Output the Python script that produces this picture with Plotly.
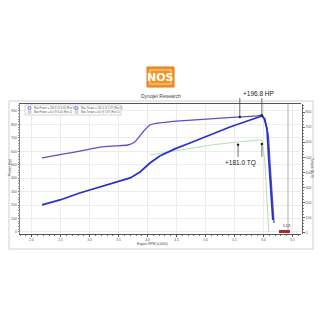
import plotly.graph_objects as go

# ---- data (Engine RPM x1000 vs power scale) ----
rpm_hp = [2.18, 2.66, 3.18, 3.44, 3.66, 3.78, 3.92, 4.04, 4.21, 4.56, 5.08, 5.59, 5.90, 5.97, 6.02, 6.08, 6.11, 6.14, 6.18]
hp_vals = [551, 588, 632, 640, 647, 670, 744, 796, 811, 826, 841, 856, 863, 871, 826, 722, 521, 327, 67]

rpm_tq = [2.18, 2.49, 2.83, 3.18, 3.52, 3.70, 3.87, 4.04, 4.21, 4.47, 4.73, 5.08, 5.42, 5.77, 5.97, 6.02, 6.06, 6.09, 6.13, 6.16]
tq_vals = [201, 238, 290, 335, 379, 402, 446, 513, 565, 618, 662, 722, 781, 833, 863, 841, 759, 536, 275, 89]

rpm_base = [4.04, 4.60, 5.10, 5.56, 5.97, 6.02, 6.06, 6.09]
base_vals = [573, 615, 647, 670, 685, 536, 238, 0]

hp_marks_x = [5.59, 5.97]
hp_marks_y = [856, 866]
tq_marks_x = [5.56, 5.97]
tq_marks_y = [648, 655]

x_ticks = [2.0, 2.5, 3.0, 3.5, 4.0, 4.5, 5.0, 5.5, 6.0, 6.5]
hp_label = "+196.8 HP"
tq_label = "+181.0 TQ"

def px(x):
    return x / 320.0

def py(y):
    return 1 - y / 320.0

fig = go.Figure()

fig.add_trace(go.Scatter(x=rpm_base, y=base_vals, mode="lines",
                         line=dict(color="#b9dcb0", width=1), showlegend=False))
fig.add_trace(go.Scatter(x=rpm_hp, y=hp_vals, mode="lines", line_shape="spline",
                         line=dict(color="#5b50c8", width=1.3, smoothing=0.5), showlegend=False))
fig.add_trace(go.Scatter(x=rpm_tq, y=tq_vals, mode="lines",
                         line=dict(color="#2733c8", width=1.8), showlegend=False))
fig.add_trace(go.Scatter(x=hp_marks_x, y=hp_marks_y, mode="markers",
                         marker=dict(color="#222", size=2.5), showlegend=False))
fig.add_trace(go.Scatter(x=tq_marks_x, y=tq_marks_y, mode="markers",
                         marker=dict(color="#222", size=2.5), showlegend=False))
# dummy trace for right axis
fig.add_trace(go.Scatter(x=[None], y=[None], yaxis="y2", showlegend=False))

shapes = []
# outer chart frame
shapes.append(dict(type="rect", xref="paper", yref="paper", x0=px(9), x1=px(313), y0=py(249), y1=py(101),
                   line=dict(color="#cfcfcf", width=1), layer="below"))
# cursor line
shapes.append(dict(type="line", xref="paper", yref="paper", x0=px(288), x1=px(288), y0=py(234), y1=py(104),
                   line=dict(color="#9a9a9a", width=0.8)))
# HP annotation lines
for xv, yv in zip(hp_marks_x, hp_marks_y):
    shapes.append(dict(type="line", xref="x", yref="paper", x0=xv, x1=xv, y0=py(98), y1=py(116),
                       line=dict(color="#333", width=0.7)))
for xv, yv in zip(tq_marks_x, tq_marks_y):
    shapes.append(dict(type="line", xref="x", yref="paper", x0=xv, x1=xv, y0=py(145), y1=py(157),
                       line=dict(color="#333", width=0.7)))
# legend box
shapes.append(dict(type="rect", xref="paper", yref="paper", x0=px(25), x1=px(121), y0=py(115), y1=py(105),
                   line=dict(color="#b8b8b8", width=0.6), fillcolor="white"))
leg = [(28, 108, "#5b50c8"), (75, 108, "#5b50c8"), (28, 112, "#8fc98a"), (75, 112, "#8fc98a")]
for lx, ly, c in leg:
    shapes.append(dict(type="rect", xref="paper", yref="paper", x0=px(lx), x1=px(lx + 3), y0=py(ly + 1.3), y1=py(ly - 1.3),
                       line=dict(color=c, width=0.6), fillcolor="#e6e6f5"))
# NOS logo
shapes.append(dict(type="rect", xref="paper", yref="paper", x0=px(147), x1=px(174), y0=py(87), y1=py(67),
                   line=dict(color="#e07b10", width=1), fillcolor="#f39322"))
shapes.append(dict(type="rect", xref="paper", yref="paper", x0=px(150), x1=px(171), y0=py(84), y1=py(70),
                   line=dict(color="#ffffff", width=0.6), fillcolor="#f39322"))
# red marker bottom right
shapes.append(dict(type="rect", xref="paper", yref="paper", x0=px(279), x1=px(290), y0=py(233), y1=py(230),
                   line=dict(width=0), fillcolor="#b3262a"))

annotations = [
    dict(x=px(160.5), y=py(77), xref="paper", yref="paper", text="<b>NOS</b>", showarrow=False,
         font=dict(size=11, color="white", family="DejaVu Sans"), xanchor="center", yanchor="middle"),
    dict(x=px(160.5), y=py(96), xref="paper", yref="paper", text="Dynojet Research", showarrow=False,
         font=dict(size=5, color="#444", family="Liberation Sans"), xanchor="center", yanchor="middle"),
    dict(x=px(258), y=py(93), xref="paper", yref="paper", text=hp_label, showarrow=False,
         font=dict(size=6.5, color="#222", family="Liberation Sans"), xanchor="center", yanchor="middle"),
    dict(x=px(240), y=py(163), xref="paper", yref="paper", text=tq_label, showarrow=False,
         font=dict(size=6.5, color="#222", family="Liberation Sans"), xanchor="center", yanchor="middle"),
    dict(x=px(152), y=py(244), xref="paper", yref="paper", text="Engine RPM (x1000)", showarrow=False,
         font=dict(size=3.3, color="#444", family="Liberation Sans"), xanchor="center", yanchor="middle"),
    dict(x=px(10), y=py(168), xref="paper", yref="paper", text="Power (hp)", showarrow=False, textangle=-90,
         font=dict(size=3.5, color="#444", family="Liberation Sans"), xanchor="center", yanchor="middle"),
    dict(x=px(312), y=py(168), xref="paper", yref="paper", text="Torque (lb-ft)", showarrow=False, textangle=90,
         font=dict(size=3.5, color="#444", family="Liberation Sans"), xanchor="center", yanchor="middle"),
    dict(x=px(287), y=py(226), xref="paper", yref="paper", text="6.423", showarrow=False,
         font=dict(size=3, color="#444", family="Liberation Sans"), xanchor="center", yanchor="middle"),
    dict(x=px(32), y=py(108), xref="paper", yref="paper", text="Max Power = 196.8 @ 6.00 (Run 1)", showarrow=False,
         font=dict(size=2.6, color="#555", family="Liberation Sans"), xanchor="left", yanchor="middle"),
    dict(x=px(79), y=py(108), xref="paper", yref="paper", text="Max Torque = 181.0 @ 5.97 (Run 1)", showarrow=False,
         font=dict(size=2.6, color="#555", family="Liberation Sans"), xanchor="left", yanchor="middle"),
    dict(x=px(32), y=py(112), xref="paper", yref="paper", text="Max Power = 0.0 @ 6.00 (Run 2)", showarrow=False,
         font=dict(size=2.6, color="#555", family="Liberation Sans"), xanchor="left", yanchor="middle"),
    dict(x=px(79), y=py(112), xref="paper", yref="paper", text="Max Torque = 0.0 @ 5.97 (Run 2)", showarrow=False,
         font=dict(size=2.6, color="#555", family="Liberation Sans"), xanchor="left", yanchor="middle"),
]

fig.update_layout(
    width=320, height=320, autosize=False,
    margin=dict(l=0, r=0, t=0, b=0),
    paper_bgcolor="white", plot_bgcolor="white",
    showlegend=False,
    shapes=shapes, annotations=annotations,
    xaxis=dict(domain=[px(20), px(301)], range=[1.8, 6.645], tickvals=x_ticks,
               ticktext=[f"{v:.1f}" for v in x_ticks],
               tickfont=dict(size=3.3, color="#555", family="Liberation Sans"),
               showgrid=True, gridcolor="#ececec", gridwidth=0.6,
               showline=True, linecolor="#555", linewidth=1.2, mirror=True,
               ticks="outside", ticklen=1.5, tickcolor="#555",
               minor=dict(dtick=0.1, ticks="outside", ticklen=1.2, tickcolor="#777", showgrid=False),
               zeroline=False),
    yaxis=dict(domain=[py(234), py(104)], range=[-15, 952], dtick=100,
               tickfont=dict(size=3.5, color="#555", family="Liberation Sans"),
               showgrid=True, gridcolor="#ececec", gridwidth=0.6,
               showline=True, linecolor="#888", linewidth=0.8,
               ticks="outside", ticklen=1.5, tickcolor="#777",
               minor=dict(dtick=20, ticks="outside", ticklen=1, tickcolor="#999"),
               zeroline=False),
    yaxis2=dict(overlaying="y", side="right", anchor="free", position=px(302),
                range=[-7, 853], dtick=100,
                tickfont=dict(size=3.5, color="#555", family="Liberation Sans"),
                showgrid=False, showline=True, linecolor="#666", linewidth=0.8,
                ticks="outside", ticklen=2, tickcolor="#666",
                minor=dict(dtick=20, ticks="outside", ticklen=1.2, tickcolor="#888"),
                zeroline=False),
)

fig.write_html("out.html")
